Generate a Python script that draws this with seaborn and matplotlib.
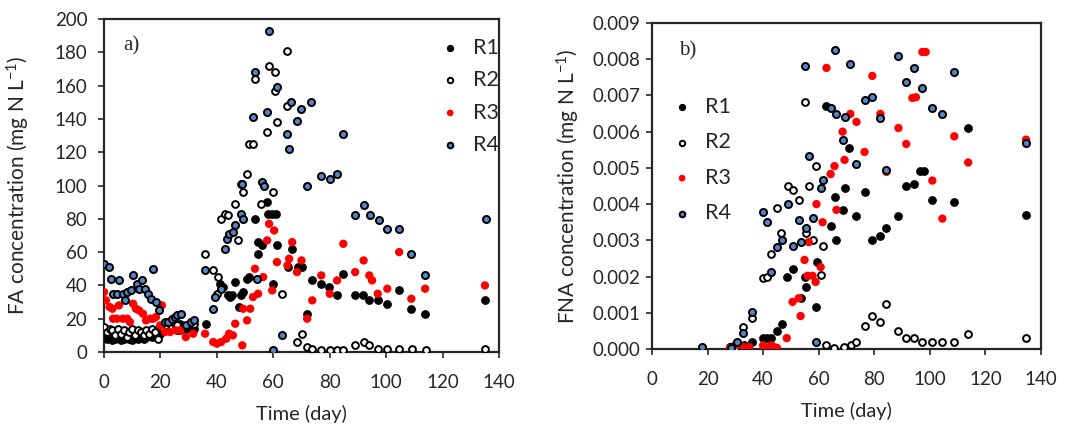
import matplotlib
matplotlib.use("Agg")
import matplotlib.pyplot as plt
import seaborn as sns
import pandas as pd
from matplotlib.ticker import FormatStrFormatter, MultipleLocator

# ---- data ----
# a) free ammonia (mg N/L)
fa_r1_day = [0, 1, 2, 3, 4, 5, 6, 7, 8, 9, 10, 11, 12, 13, 14, 15, 16, 17, 18, 19, 20,
             21, 22, 24, 25, 26, 27, 29, 31, 32, 36, 41, 42, 44, 44.6, 45.5, 46.5, 48, 48.5,
             49.3, 50.7, 51.5, 53.5, 54.6, 54.6, 56, 57.8, 58, 59.6, 60, 61, 61.3, 65.2, 66.7,
             68.8, 70, 72, 73.8, 77, 79.8, 82.6, 84.8, 89, 91.8, 94, 97, 100.4, 104.6, 108.9,
             113.8, 135]
fa_r1 = [10, 8, 9, 7, 8, 9, 7, 8, 10, 8, 7, 9, 8, 10, 8, 9, 11, 9, 10, 12, 11,
         13, 15, 14, 16, 13, 17, 14, 15, 14, 17, 41, 39, 34, 33, 34, 42, 27, 34,
         36, 44, 45, 80, 66, 59, 64, 90, 83, 83, 41, 83, 64, 51, 62,
         51, 51, 23, 43, 41, 39, 34, 47, 34, 34, 31, 31, 29, 37, 26,
         23, 31]

fa_r2_day = [0, 1, 2, 3, 4, 5, 6, 7, 8, 9, 10, 11, 12, 13, 14, 15, 16, 17, 18, 19, 20,
             21, 22, 24, 25, 26, 27, 29, 31, 32, 35.8, 38.7, 40, 40.4, 41.5, 43, 44, 46.5, 47.5,
             48.6, 49.3, 50.7, 51.4, 52.8, 53.5, 55.7, 57.8, 58.5, 60, 60.6, 60.6, 61.3, 63,
             64.9, 64.9, 68.4, 70, 72, 73.8, 77, 80, 82.6, 84.8, 89, 92, 94, 97, 100.4, 104.6,
             109, 114, 135]
fa_r2 = [15, 12, 14, 13, 10, 14, 11, 13, 9, 12, 14, 10, 13, 12, 10, 13, 11, 14, 12, 8, 15,
         14, 16, 15, 17, 16, 13, 15, 18, 17, 59, 49, 35, 45, 80, 83, 82, 89, 67,
         101, 96, 107, 125, 125, 164, 89, 132, 172, 96, 168, 157, 138, 35,
         181, 148, 6, 11, 3, 2, 1, 1, 1, 1, 4, 6, 4, 2, 2, 2,
         2, 1, 2]

fa_r3_day = [0, 0.7, 2, 3, 3.2, 4.6, 5.3, 6.7, 8.2, 9.2, 10.3, 11.3, 12.4, 13.8, 14.9, 16.3,
             17.4, 18.4, 19.9, 20.5, 21.6, 23.4, 25.5, 27, 29, 31.6, 35.8, 38.7, 40, 41.5,
             43.3, 44.3, 45.7, 46.5, 49, 49.3, 50.7, 51.8, 52.8, 53.5, 54.6, 56.4, 57.8, 58.5,
             59.6, 60.3, 61.3, 65, 65.6, 66.7, 68.4, 70, 72, 73.8, 77, 80, 82.6, 84.8, 89, 92,
             94, 95, 97, 100.4, 104.6, 108.9, 113.8, 135]
fa_r3 = [36, 31, 27, 26, 20, 20, 28, 20, 20, 18, 29, 26, 25, 23, 19, 20,
         20, 21, 16, 28, 12, 12, 13, 13, 9, 11, 11, 6, 5, 6,
         8, 11, 10, 17, 4, 26, 19, 26, 33, 50, 35, 45, 67, 77,
         37, 73, 54, 52, 56, 66, 48, 55, 20, 31, 46, 35, 43, 65, 48, 55,
         46, 43, 35, 38, 60, 32, 38, 40]

fa_r4_day = [0, 1.8, 2.5, 3.2, 4.6, 5.3, 6.7, 7.4, 8.2, 9.6, 10.3, 11.7, 12.4, 13.5, 14.5, 15.6,
             16.7, 17.4, 18.4, 19.5, 21.6, 22.7, 24.1, 25.2, 25.9, 27.3, 29.1, 30.9, 31.9, 35.8,
             38.7, 39.4, 41.5, 42.9, 43.6, 44.3, 45.7, 46.5, 48.6, 49.3, 49, 52.8, 53.5, 54.3,
             56, 56.7, 57.8, 58.5, 60, 61.3, 63, 64.9, 65.6, 66.3, 68.4, 69.9, 72, 73.4, 77, 80,
             82.6, 84.8, 89, 92, 94.3, 97.5, 100.4, 104.6, 108.9, 113.8, 135.5]
fa_r4 = [53, 51, 44, 35, 35, 43, 35, 31, 36, 37, 46, 41, 38, 43, 38, 35,
         32, 50, 30, 25, 18, 18, 20, 21, 22, 23, 16, 18, 19, 49,
         26, 33, 38, 62, 68, 71, 72, 76, 83, 80, 101, 141, 168, 44,
         102, 100, 144, 193, 1, 159, 10, 131, 122, 150, 139, 146, 100, 150, 106, 104,
         107, 131, 82, 88, 82, 79, 74, 74, 59, 46, 80]

# b) free nitrous acid (mg N/L)
fna_r1_day = [28, 30, 33, 36, 40, 41.5, 43, 44.9, 46.7, 48.5, 50.6, 53.8, 54.9, 55.6, 58.9, 59.5,
              62.8, 64.6, 65.7, 66.4, 68.6, 69.3, 71, 73.6, 76.5, 79.3, 82.2, 84.4, 88.7, 91.5,
              94.4, 96.5, 98, 100.9, 108.8, 113.8, 134.6]
fna_r1 = [0.00005, 0.0001, 0.0001, 0.0002, 0.0003, 0.0003, 0.0003, 0.0005, 0.0007, 0.002,
          0.0022, 0.0014, 0.002, 0.0017, 0.00116, 0.0024, 0.0067, 0.0034, 0.0042, 0.003,
          0.00384, 0.00444, 0.00555, 0.00367, 0.00433, 0.003, 0.00312, 0.00334, 0.00367, 0.0045,
          0.00456, 0.0049, 0.0049, 0.00411, 0.00406, 0.0061, 0.0037]

fna_r2_day = [18, 28, 30, 32.7, 35.9, 39.8, 41.3, 42.7, 44.9, 46.3, 48.8, 50.6, 52.8, 54.9,
              55.6, 56.4, 57.8, 59.2, 60.7, 61.4, 62.8, 65.5, 69, 71.8, 73.6, 76.5, 79.3,
              82.2, 84.4, 88.7, 91.5, 94.4, 97.3, 100.9, 104.5, 108.8, 113.8, 134.6]
fna_r2 = [0.00003, 0.00005, 0.00003, 0.0006, 0.00085, 0.00196, 0.002, 0.00262, 0.0039, 0.0032,
          0.0045, 0.0044, 0.0041, 0.00682, 0.0032, 0.0045, 0.003, 0.00505, 0.00204, 0.00284,
          0.0001, 0.00003, 0.00005, 0.0001, 0.0002, 0.00064, 0.00091, 0.00075, 0.00124,
          0.0005, 0.0003, 0.0003, 0.0002, 0.0002, 0.0002, 0.0002, 0.0004, 0.0003]

fna_r3_day = [28, 30, 33, 35, 40, 41, 43, 44, 45, 48.5, 50.6, 52.8, 53.5, 54.9, 56, 56.4, 57.8,
              58.9, 59.2, 60.7, 61.4, 62.8, 64.3, 65.7, 66.4, 68.6, 69.3, 71.4, 73.6, 76.5,
              79.3, 82.2, 84.4, 88.7, 91.5, 93.7, 95, 97.3, 98.5, 100.9, 104.5, 108.8, 113.8,
              134.6]
fna_r3 = [0.00002, 0.00002, 0.00005, 0.00005, 0.0001, 0.00005, 0.0001, 0.00005, 0.00003, 0.0003,
          0.0013, 0.0014, 0.00091, 0.00246, 0.00202, 0.00295, 0.00202, 0.00185, 0.004, 0.00226,
          0.0035, 0.00776, 0.00483, 0.00505, 0.00384, 0.006, 0.00522, 0.00649, 0.00627, 0.00544,
          0.00754, 0.00649, 0.00489, 0.0061, 0.00566, 0.00693, 0.00695, 0.0082, 0.0082, 0.00465,
          0.0036, 0.00587, 0.00515, 0.00578]

fna_r4_day = [18, 28.4, 30.5, 32.7, 35.9, 39.8, 41.3, 43, 44.9, 46.7, 48.8, 50.6, 52.8, 53.5,
              54.9, 55.6, 56.4, 57.8, 58.9, 60.7, 61.4, 64.6, 65.7, 66.4, 68.6, 69.3, 71.4,
              73.6, 76.5, 79.3, 82.2, 84.4, 88.7, 91.5, 94.4, 97.3, 100.9, 104.5, 108.8, 134.6]
fna_r4 = [0.00005, 0.00003, 0.0002, 0.00045, 0.00102, 0.00378, 0.0035, 0.00213, 0.00282,
          0.00301, 0.004, 0.00284, 0.00356, 0.00295, 0.00781, 0.00334, 0.00533, 0.00362,
          0.0002, 0.00444, 0.00467, 0.00665, 0.00826, 0.00649, 0.00577, 0.0064, 0.00787,
          0.0051, 0.00687, 0.00696, 0.00638, 0.00494, 0.00809, 0.00737, 0.00776, 0.0072,
          0.00665, 0.00649, 0.00765, 0.0057]

series_names = ["R1", "R2", "R3", "R4"]

# marker style per reactor
styles = {
    "R1": dict(color="black", edgecolor="black", linewidth=1.0, s=28),
    "R2": dict(color="white", edgecolor="black", linewidth=1.4, s=24),
    "R3": dict(color="#ff0000", edgecolor="none", linewidth=0, s=36),
    "R4": dict(color="#5485c4", edgecolor="black", linewidth=1.4, s=26),
}

sns.set_style("ticks")
plt.rcParams["font.family"] = ["Lato", "DejaVu Sans"]
plt.rcParams["mathtext.fontset"] = "custom"
plt.rcParams["mathtext.rm"] = "Lato"
plt.rcParams["mathtext.it"] = "Lato:italic"

fig = plt.figure(figsize=(10.7, 4.37), dpi=100)
ax1 = fig.add_axes([0.0972, 0.1945, 0.3692, 0.762])
ax2 = fig.add_axes([0.6093, 0.2014, 0.3636, 0.746])


def draw(ax, days, vals):
    for name, d, v in zip(series_names, days, vals):
        df = pd.DataFrame({"day": d, "val": v})
        sns.scatterplot(data=df, x="day", y="val", ax=ax, label=name,
                        marker="o", zorder=3, **styles[name])


draw(ax1, [fa_r1_day, fa_r2_day, fa_r3_day, fa_r4_day], [fa_r1, fa_r2, fa_r3, fa_r4])
draw(ax2, [fna_r1_day, fna_r2_day, fna_r3_day, fna_r4_day], [fna_r1, fna_r2, fna_r3, fna_r4])

for ax in (ax1, ax2):
    ax.set_xlim(0, 140)
    ax.xaxis.set_major_locator(MultipleLocator(20))
    ax.set_xlabel("Time (day)", fontsize=14.5, labelpad=10)
    for sp in ax.spines.values():
        sp.set_linewidth(1.6)
        sp.set_visible(True)
    ax.tick_params(axis="both", labelsize=13.5, width=1.2, length=4, direction="out")
    ax.tick_params(axis="x", pad=12)

ax1.set_ylim(0, 200)
ax1.yaxis.set_major_locator(MultipleLocator(20))
ax1.set_ylabel("FA concentration (mg N L$^{-1}$)", fontsize=15, labelpad=16)
ax1.tick_params(axis="y", pad=8)

ax2.set_ylim(0, 0.009)
ax2.yaxis.set_major_locator(MultipleLocator(0.001))
ax2.yaxis.set_major_formatter(FormatStrFormatter("%.3f"))
ax2.set_ylabel("FNA concentration (mg N L$^{-1}$)", fontsize=15, labelpad=8)
ax2.tick_params(axis="y", pad=4)

ax1.text(0.048, 0.92, "a)", transform=ax1.transAxes, fontsize=15,
         family="Liberation Serif", va="center", ha="left")
ax2.text(0.07, 0.915, "b)", transform=ax2.transAxes, fontsize=15,
         family="Liberation Serif", va="center", ha="left")

ax1.legend(loc="upper left", bbox_to_anchor=(0.8, 0.97), frameon=False, fontsize=15.5,
           handletextpad=0.05, labelspacing=0.58, markerscale=0.8, borderaxespad=0)
ax2.legend(loc="upper left", bbox_to_anchor=(0.0, 0.8), frameon=False, fontsize=15.5,
           handletextpad=0.05, labelspacing=0.72, markerscale=0.8, borderaxespad=0)

fig.savefig("out.png", dpi=100)
